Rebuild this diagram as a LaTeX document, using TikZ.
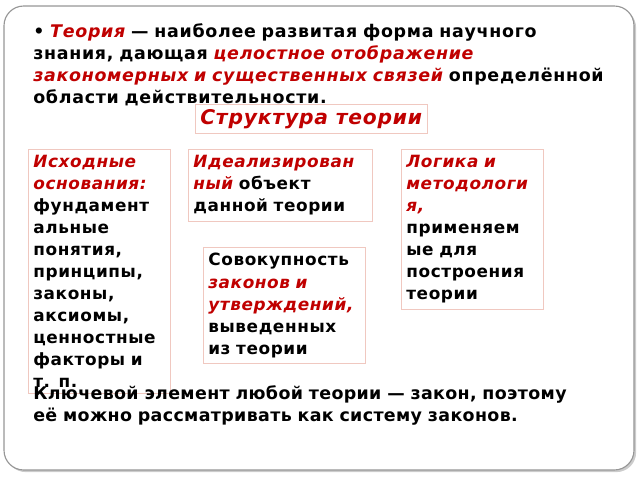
\documentclass[tikz,border=0pt]{standalone}
\usepackage{fontspec}
\setmainfont{DejaVu Sans}
\newfontfamily\slidefont[LetterSpace=4]{DejaVu Sans}
\newfontfamily\boxfont[LetterSpace=3.5]{DejaVu Sans}
\newfontfamily\notefont[LetterSpace=2]{DejaVu Sans}
\usetikzlibrary{positioning,shadows}
\definecolor{termred}{RGB}{192,0,0}
\definecolor{boxline}{RGB}{240,200,192}
\definecolor{frameline}{RGB}{150,150,150}
\newcommand{\term}[1]{{\color{termred}\itshape #1}}
\begin{document}
\begin{tikzpicture}[x=0.025cm,y=-0.025cm]
	\tikzstyle{slidetext}=[anchor=north west,align=left,inner sep=0pt,font=\slidefont\bfseries\fontsize{12.4}{15.8}\selectfont]
	\tikzstyle{partbox}=[anchor=north west,align=left,draw=boxline,line width=0.6pt,inner xsep=3.5pt,inner ysep=4.3pt,font=\boxfont\bfseries\fontsize{12}{15.65}\selectfont]
	\useasboundingbox (0,0) rectangle (640,480);
	% slide frame
	\draw[frameline,fill=white,line width=0.8pt,rounded corners=14pt,
		drop shadow={shadow xshift=1.5pt,shadow yshift=-1.5pt,fill=black!40}] (4,6) rectangle (634,470);
	% definition
	\node[slidetext,text width=15cm] (intro) at (33,23)
		{• \term{Теория} — наиболее развитая форма научного\\
		 знания, дающая \term{целостное отображение}\\
		 \term{закономерных и существенных связей} определённой\\
		 области действительности.};
	\node[partbox,font=\slidefont\bfseries\fontsize{14.4}{16}\selectfont,inner ysep=3.5pt] (title) at (195,104)
		{\term{Структура теории}};
	% parts of the theory
	\node[partbox,text width=3.3cm] (basis) at (28,149)
		{\term{Исходные}\\ \term{основания:}\\ фундамент\\ альные\\ понятия,\\ принципы,\\ законы,\\ аксиомы,\\ ценностные\\ факторы и\\ т. п.};
	\node[partbox,text width=4.35cm] (object) at (188,149)
		{\term{Идеализирован}\\ \term{ный} объект\\ данной теории};
	\node[partbox,text width=3.8cm] (laws) at (203,247)
		{Совокупность\\ \term{законов и}\\ \term{утверждений,}\\ выведенных\\ из теории};
	\node[partbox,text width=3.3cm] (logic) at (401,149)
		{\term{Логика и}\\ \term{методологи}\\ \term{я,}\\ применяем\\ ые для\\ построения\\ теории};
	% conclusion
	\node[slidetext,font=\notefont\bfseries\fontsize{12.4}{15.8}\selectfont,text width=15cm] (summary) at (33,385)
		{Ключевой элемент любой теории — закон, поэтому\\
		 её можно рассматривать как систему законов.};
\end{tikzpicture}
\end{document}
